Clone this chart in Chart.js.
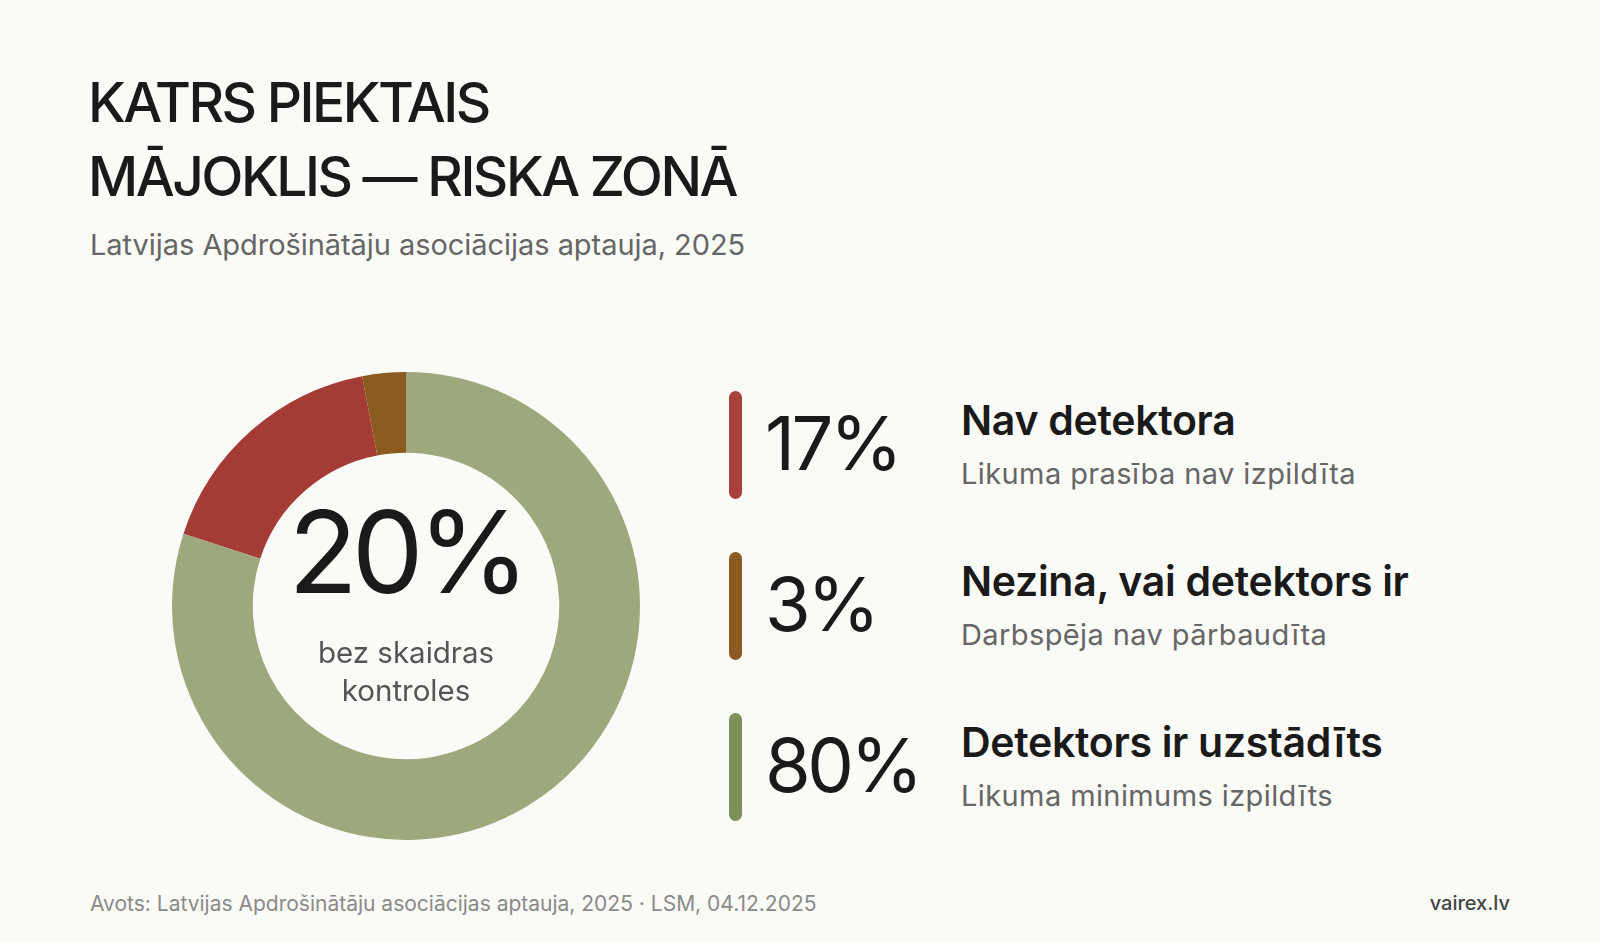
<!DOCTYPE html>
<html lang="lv">
<head>
<meta charset="utf-8">
<title>Katrs piektais mājoklis — riska zonā</title>
<script src="https://cdn.jsdelivr.net/npm/chart.js@4.4.1/dist/chart.umd.min.js"></script>
<style>
  html, body {
    margin: 0;
    padding: 0;
    width: 1600px;
    height: 942px;
    background: #fafaf7;
    font-family: "Inter", "Noto Sans", sans-serif;
    color: #1a1a1a;
    overflow: hidden;
  }
  .page { position: relative; width: 1600px; height: 942px; }
  h1 {
    position: absolute;
    left: 88px;
    top: 65px;
    margin: 0;
    font-size: 55px;
    font-weight: 500;
    line-height: 74px;
    letter-spacing: -2.5px;
  }
  .subtitle {
    position: absolute;
    left: 90px;
    top: 227px;
    font-size: 29px;
    color: #666;
    letter-spacing: -0.05px;
  }
  .donut {
    position: absolute;
    left: 172px;
    top: 372px;
    width: 468px;
    height: 468px;
  }
  .center {
    position: absolute;
    left: 172px;
    top: 372px;
    width: 468px;
    text-align: center;
    pointer-events: none;
  }
  .center .big {
    position: absolute;
    left: 0; right: 0;
    top: 123px;
    font-size: 114px;
    font-weight: 400;
    letter-spacing: -6px;
    line-height: 1;
  }
  .center .note {
    position: absolute;
    left: 0; right: 0;
    top: 261px;
    font-size: 29.5px;
    line-height: 38px;
    color: #555;
  }
  .legend { position: absolute; left: 729px; top: 391px; }
  .row { position: relative; height: 161px; }
  .bar {
    position: absolute;
    left: 0; top: 0;
    width: 13px;
    height: 108px;
    border-radius: 7px;
  }
  .pct {
    position: absolute;
    left: 36px;
    top: 15px;
    font-size: 74px;
    font-weight: 400;
    letter-spacing: -3.5px;
    line-height: 1;
  }
  .lbl {
    position: absolute;
    left: 232px;
    top: 4px;
    white-space: nowrap;
    font-size: 41px;
    font-weight: 600;
    letter-spacing: -0.3px;
  }
  .desc {
    position: absolute;
    left: 232px;
    top: 65px;
    white-space: nowrap;
    font-size: 29px;
    letter-spacing: 0.4px;
    color: #666;
  }
  .footer {
    position: absolute;
    left: 90px;
    top: 891px;
    font-size: 21px;
    color: #8a8a8a;
  }
  .brand {
    position: absolute;
    right: 90px;
    top: 891px;
    font-size: 20px;
    color: #444;
    font-weight: 500;
  }
</style>
</head>
<body>
<div class="page">
  <h1>KATRS PIEKTAIS<br>MĀJOKLIS — RISKA ZONĀ</h1>
  <div class="subtitle">Latvijas Apdrošinātāju asociācijas aptauja, 2025</div>

  <div class="donut"><canvas id="chart"></canvas></div>
  <div class="center">
    <div class="big" id="bigPct"></div>
    <div class="note">bez skaidras<br>kontroles</div>
  </div>

  <div class="legend" id="legend"></div>

  <div class="footer">Avots: Latvijas Apdrošinātāju asociācijas aptauja, 2025 · LSM, 04.12.2025</div>
  <div class="brand">vairex.lv</div>
</div>

<script>
  // survey shares, %
  const categories = ["Nav detektora", "Nezina, vai detektors ir", "Detektors ir uzstādīts"];
  const descriptions = ["Likuma prasība nav izpildīta", "Darbspēja nav pārbaudīta", "Likuma minimums izpildīts"];
  const shares = [17, 3, 80];

  const sliceColors = ["#a43c35", "#8b5a21", "#9da87c"];
  const barColors = ["#a8403b", "#8b5a22", "#7e8f5a"];

  // the two "risk" groups together
  const riskShare = shares[0] + shares[1];
  document.getElementById("bigPct").textContent = riskShare + "%";

  const legend = document.getElementById("legend");
  categories.forEach((name, i) => {
    const row = document.createElement("div");
    row.className = "row";
    row.innerHTML =
      `<div class="bar" style="background:${barColors[i]}"></div>` +
      `<div class="pct">${shares[i]}%</div>` +
      `<div class="lbl">${name}</div>` +
      `<div class="desc">${descriptions[i]}</div>`;
    legend.appendChild(row);
  });

  new Chart(document.getElementById("chart"), {
    type: "doughnut",
    data: {
      labels: categories,
      datasets: [{
        data: shares,
        backgroundColor: sliceColors,
        borderWidth: 0,
        hoverOffset: 0,
      }],
    },
    options: {
      responsive: true,
      maintainAspectRatio: false,
      animation: false,
      cutout: "65.5%",
      // risk slices end at 12 o'clock, so start them 20% earlier
      rotation: -(riskShare / 100) * 360,
      layout: { padding: 0 },
      plugins: {
        legend: { display: false },
        tooltip: { enabled: false },
      },
    },
  });
</script>
</body>
</html>
